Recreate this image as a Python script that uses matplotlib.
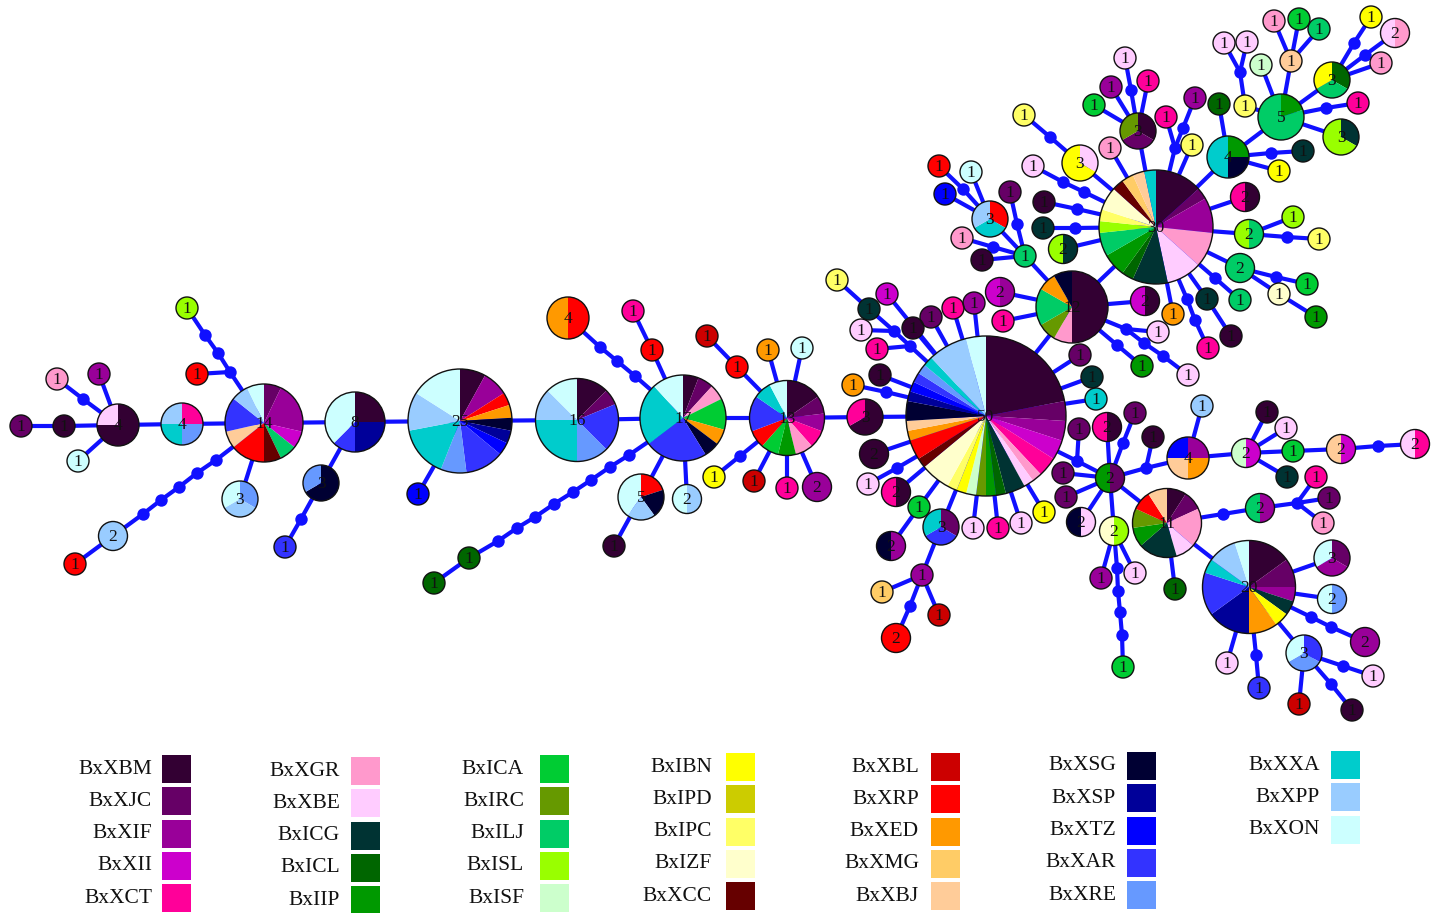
#!/usr/bin/env python3
"""Haplotype network of Bx populations, drawn as pie nodes with mutation steps."""
import numpy as np
import matplotlib
matplotlib.use("Agg")
import matplotlib.pyplot as plt
from matplotlib.patches import Wedge, Circle, Rectangle

# populations (legend order) and their colours
pop_names = ["BxXBM", "BxXJC", "BxXIF", "BxXII", "BxXCT",
             "BxXGR", "BxXBE", "BxICG", "BxICL", "BxIIP",
             "BxICA", "BxIRC", "BxILJ", "BxISL", "BxISF",
             "BxIBN", "BxIPD", "BxIPC", "BxIZF", "BxXCC",
             "BxXBL", "BxXRP", "BxXED", "BxXMG", "BxXBJ",
             "BxXSG", "BxXSP", "BxXTZ", "BxXAR", "BxXRE",
             "BxXXA", "BxXPP", "BxXON"]
pop_colors = ["#330033", "#660066", "#990099", "#cc00cc", "#ff0099",
              "#ff99cc", "#ffccff", "#003333", "#006600", "#009900",
              "#00cc33", "#669900", "#00cc66", "#99ff00", "#ccffcc",
              "#ffff00", "#cccc00", "#ffff66", "#ffffcc", "#660000",
              "#cc0000", "#ff0000", "#ff9900", "#ffcc66", "#ffcc99",
              "#000033", "#000099", "#0000ff", "#3333ff", "#6699ff",
              "#00cccc", "#99ccff", "#ccffff"]

# haplotype nodes: id, layout x, layout y, haplotype composition
left_nodes = [
    ("a1", 21, 426, "XJC:1"), ("a2", 64, 426, "XBM:1"), ("a3", 118, 425, "XBM:3 XBE:1"),
    ("a4", 57, 379, "XGR:1"), ("a5", 99, 374, "XIF:1"), ("a6", 78, 461, "XON:1"),
    ("a7", 182, 424, "XCT:1 XRE:1 XXA:1 XPP:1"),
    ("a8", 264, 423, "XJC:1 XIF:3 XII:1 ILJ:1 XCC:1 XRP:2 XBJ:1 XAR:2 XPP:1 XON:1"),
    ("a9", 187, 308, "ISL:1"), ("a10", 197, 374, "XRP:1"), ("a11", 113, 536, "XPP:2"),
    ("a12", 75, 564, "XRP:1"), ("a13", 240, 499, "XRE:1 XPP:1 XON:1"),
    ("a14", 355, 422, "XBM:2 XSP:2 XAR:1 XON:3"), ("a15", 321, 483, "XSG:2 XRE:1"),
    ("a16", 285, 547, "XAR:1"),
    ("a17", 460, 421, "XBM:2 XIF:2 XRP:1 XED:1 XSG:1 XSP:1 XTZ:1 XAR:3 XRE:2 XXA:4 XPP:3 XON:4"),
    ("a18", 418, 494, "XTZ:1"),
    ("a19", 577, 420, "XBM:2 XJC:1 XAR:3 XRE:2 XXA:4 XPP:2 XON:2"),
    ("a20", 683, 418, "XBM:1 XJC:1 XGR:1 ICA:2 XED:1 XSG:1 XAR:4 XXA:4 XON:2"),
    ("a21", 568, 318, "XRP:2 XED:2"), ("a22", 633, 311, "XCT:1"), ("a23", 652, 350, "XRP:1"),
    ("a24", 469, 558, "ICL:1"), ("a25", 434, 583, "ICL:1"),
    ("a26", 641, 497, "XRP:1 XSG:1 XPP:1 XON:2"), ("a27", 614, 546, "XBM:1"),
    ("a28", 687, 499, "XPP:1 XON:1"), ("a29", 707, 336, "XBL:1"), ("a30", 737, 367, "XRP:1"),
    ("a31", 787, 418, "XBM:2 XJC:1 XIF:1 XCT:1 XGR:1 IIP:1 ICA:1 XRP:1 XAR:2 XXA:1 XON:1"),
    ("a32", 768, 350, "XED:1"), ("a33", 802, 348, "XON:1"), ("a34", 714, 477, "IBN:1"),
    ("a35", 754, 481, "XBL:1"), ("a36", 787, 488, "XCT:1"), ("a37", 817, 487, "XIF:2"),
    ("a38", 865, 417, "XBM:2 XCT:1"),
]
center_nodes = [
    ("B", 986, 416, "XBM:11 XJC:2 XIF:2 XII:2 XCT:2 XGR:1 XBE:1 ICG:2 ICL:1 IIP:1 IRC:1 ISF:1 "
                    "IBN:1 IPC:1 IZF:3 XCC:1 XRP:2 XED:1 XBJ:1 XSG:2 XSP:1 XTZ:1 XAR:1 XRE:1 "
                    "XXA:1 XPP:4 XON:2"),
    ("b1", 837, 280, "IPC:1"), ("b2", 869, 309, "ICG:1"), ("b3", 861, 330, "XBE:1"),
    ("b4", 877, 349, "XCT:1"), ("b5", 887, 294, "XII:1"), ("b6", 913, 328, "XBM:1"),
    ("b7", 931, 317, "XJC:1"), ("b8", 953, 308, "XCT:1"), ("b9", 974, 303, "XIF:1"),
    ("b10", 880, 375, "XBM:1"), ("b11", 853, 385, "XED:1"), ("b12", 874, 454, "XBM:2"),
    ("b13", 868, 484, "XBE:1"), ("b14", 896, 492, "XBM:1 XCT:1"), ("b15", 919, 507, "ICA:1"),
    ("b16", 891, 546, "XIF:1 XSG:1"), ("b17", 941, 527, "XJC:1 XAR:1 XXA:1"),
    ("b18", 922, 575, "XIF:1"), ("b19", 882, 592, "XMG:1"), ("b20", 939, 615, "XBL:1"),
    ("b21", 896, 638, "XRP:2"), ("b22", 973, 528, "XBE:1"), ("b23", 998, 528, "XCT:1"),
    ("b24", 1021, 523, "XBE:1"), ("b25", 1044, 512, "IBN:1"), ("b26", 1080, 355, "XJC:1"),
    ("b27", 1092, 377, "ICG:1"), ("b28", 1096, 399, "XXA:1"), ("b29", 1079, 429, "XJC:1"),
    ("b30", 1110, 478, "XJC:1 IIP:1"), ("b31", 1107, 427, "XBM:1 XCT:1"),
    ("b32", 1063, 473, "XJC:1"), ("b33", 1066, 497, "XJC:1"), ("b34", 1081, 522, "XBE:1 XSG:1"),
    ("b35", 1114, 531, "ISL:1 IZF:1"), ("b36", 1135, 413, "XJC:1"), ("b37", 1153, 437, "XBM:1"),
    ("b38", 1188, 458, "XIF:1 XED:1 XBJ:1 XTZ:1"), ("b39", 1202, 406, "XPP:1"),
    ("b40", 1246, 453, "XII:1 ISF:1"), ("b41", 1267, 412, "XBM:1"), ("b42", 1286, 428, "XBE:1"),
    ("b43", 1293, 451, "ICA:1"), ("b44", 1287, 477, "ICG:1"), ("b45", 1341, 449, "XII:1 XBJ:1"),
    ("b46", 1415, 444, "XCT:1 XBE:1"), ("b47", 1101, 578, "XIF:1"), ("b48", 1135, 573, "XBE:1"),
    ("b49", 1123, 667, "ICA:1"),
]
lower_right_nodes = [
    ("c1", 1167, 523, "XBM:1 XJC:1 XGR:2 XBE:1 ICG:2 IIP:1 IRC:1 XRP:1 XBJ:1"),
    ("c2", 1175, 589, "ICL:1"), ("c3", 1260, 508, "XIF:1 ILJ:1"), ("c4", 1316, 477, "XCT:1"),
    ("c5", 1329, 498, "XJC:1"), ("c6", 1323, 523, "XGR:1"),
    ("c7", 1249, 587, "XBM:3 XJC:2 XIF:1 ICG:1 IBN:1 XED:2 XSP:3 XAR:3 XXA:1 XPP:2 XON:1"),
    ("c8", 1332, 558, "XJC:1 XIF:1 XON:1"), ("c9", 1332, 599, "XRE:1 XON:1"),
    ("c10", 1365, 642, "XIF:2"), ("c11", 1304, 653, "XAR:1 XRE:1 XON:1"),
    ("c12", 1373, 676, "XBE:1"), ("c13", 1299, 704, "XBL:1"), ("c14", 1352, 710, "XBM:1"),
    ("c15", 1227, 663, "XBE:1"), ("c16", 1259, 688, "XAR:1"),
]
upper_nodes = [
    ("t1", 1072, 307, "XBM:6 XGR:1 IRC:1 ILJ:2 XED:1 XSG:1"),
    ("t2", 1156, 227, "XBM:4 XJC:1 XIF:3 XGR:3 XBE:3 ICG:3 ICL:1 IIP:2 ILJ:2 ISL:1 IPC:1 "
                      "IZF:2 XCC:1 XMG:1 XBJ:1 XXA:1"),
    ("t3", 1000, 292, "XIF:1 XII:1"), ("t4", 1003, 321, "XCT:1"), ("t5", 1145, 301, "XBM:1 XII:1"),
    ("t6", 1173, 314, "XED:1"), ("t7", 1158, 332, "XBE:1"), ("t8", 1142, 366, "IIP:1"),
    ("t9", 1188, 375, "XBE:1"), ("t10", 1025, 256, "ILJ:1"), ("t11", 990, 219, "XRP:1 XXA:1 XPP:1"),
    ("t12", 939, 166, "XRP:1"), ("t13", 945, 194, "XTZ:1"), ("t14", 971, 172, "XON:1"),
    ("t15", 1010, 192, "XJC:1"), ("t16", 962, 238, "XGR:1"), ("t17", 982, 260, "XBM:1"),
    ("t18", 1033, 166, "XBE:1"), ("t19", 1024, 115, "IPC:1"), ("t20", 1080, 163, "XBE:1 IBN:2"),
    ("t21", 1044, 202, "XBM:1"), ("t22", 1043, 228, "ICG:1"), ("t23", 1063, 249, "ICG:1 ISL:1"),
    ("t24", 1110, 148, "XGR:1"), ("t25", 1138, 131, "XBM:1 XJC:1 IRC:1"),
    ("t26", 1125, 58, "XBE:1"), ("t27", 1111, 87, "XIF:1"), ("t28", 1094, 105, "ICA:1"),
    ("t29", 1148, 81, "XCT:1"), ("t30", 1166, 117, "XCT:1"), ("t31", 1195, 98, "XIF:1"),
    ("t32", 1192, 145, "IPC:1"), ("t33", 1228, 157, "IIP:1 XSG:1 XXA:2"),
    ("t34", 1219, 104, "ICL:1"), ("t35", 1303, 151, "ICG:1"), ("t36", 1279, 171, "IBN:1"),
    ("t37", 1281, 117, "IIP:1 ILJ:4"), ("t38", 1245, 106, "IPC:1"), ("t39", 1224, 43, "XBE:1"),
    ("t40", 1247, 42, "XBE:1"), ("t41", 1261, 65, "ISF:1"), ("t42", 1291, 61, "XBJ:1"),
    ("t43", 1274, 21, "XGR:1"), ("t44", 1299, 19, "ICA:1"), ("t45", 1319, 29, "ILJ:1"),
    ("t46", 1332, 80, "ICL:1 ILJ:1 IBN:1"), ("t47", 1371, 17, "IBN:1"),
    ("t48", 1395, 33, "XGR:1 XBE:1"), ("t49", 1381, 63, "XGR:1"), ("t50", 1358, 103, "XCT:1"),
    ("t51", 1341, 137, "ICG:1 ISL:2"), ("t52", 1245, 197, "XBM:1 XCT:1"),
    ("t53", 1249, 234, "ILJ:1 ISL:1"), ("t54", 1293, 217, "ISL:1"), ("t55", 1319, 239, "IPC:1"),
    ("t56", 1240, 268, "ILJ:2"), ("t57", 1279, 294, "IZF:1"), ("t58", 1307, 284, "ICA:1"),
    ("t59", 1316, 317, "IIP:1"), ("t60", 1207, 299, "ICG:1"), ("t61", 1231, 336, "XBM:1"),
    ("t62", 1240, 300, "ILJ:1"), ("t63", 1208, 348, "XCT:1"),
]

# median vectors / mutation steps
step_names = ["d1", "d2", "d3", "d4", "d5", "d6", "d7", "d8", "d9", "d10",
              "d11", "d12", "d13", "d14", "d15", "d16", "d17", "d18", "d19", "d20",
              "d21", "d22",
              "db1", "db2", "db3", "db4", "db5", "db6", "db7", "db8", "db9",
              "db10", "db11", "db12", "db13",
              "dc1", "dc2", "dc3", "dc4", "dc5", "dc6", "dc7",
              "dt1", "dt2", "dt3", "dt4", "dt5", "dt6", "dt7", "dt8", "dt9", "dt10",
              "dt11", "dt12", "dt13", "dt14", "dt15", "dt16", "dt17", "dt18", "dt19",
              "dt20", "dt21", "dt22", "dt23", "dt24", "dt25"]
step_x = [83, 205, 218, 230, 143, 161, 179, 197, 216, 301,
          600, 617, 635, 498, 517, 535, 554, 573, 591, 610,
          629, 740,
          894, 910, 886, 897, 910, 1077, 1123, 1146, 1378,
          1117, 1118, 1120, 1122,
          1223, 1297, 1311, 1331, 1343, 1331, 1256,
          1126, 1117, 1144, 1163, 963, 1017, 993, 1063, 1084, 1050,
          1077, 1075, 1131, 1183, 1175, 1271, 1240, 1354, 1365,
          1326, 1287, 1276, 1215, 1187, 1195]
step_y = [399, 335, 353, 372, 514, 500, 487, 473, 460, 519,
          347, 361, 376, 541, 528, 517, 504, 492, 480, 467,
          455, 456,
          331, 346, 392, 468, 606, 461, 443, 468, 446,
          568, 591, 612, 635,
          514, 503, 617, 627, 666, 684, 655,
          329, 345, 343, 356, 189, 224, 247, 182, 192, 137,
          209, 228, 90, 128, 148, 153, 72, 43, 55,
          108, 237, 277, 278, 299, 320]

# links, each written as a path through the network
links = [
    "a1 a2 a3", "a4 d1 a3", "a5 a3", "a6 a3", "a3 a7 a8", "a9 d2 d3 d4 a8", "a10 d4",
    "a12 a11 d5 d6 d7 d8 d9 a8", "a13 a8", "a8 a14 a17", "a14 a15 d10 a16", "a17 a18",
    "a17 a19 a20", "a21 d11 d12 d13 a20", "a22 a23 a20",
    "a25 a24 d14 d15 d16 d17 d18 d19 d20 d21 a20", "a20 a26 a27", "a20 a28", "a20 a31",
    "a29 a30 a31", "a31 a32", "a31 a33", "a34 d22 a31", "a31 a35", "a31 a36", "a31 a37",
    "a31 a38 B",
    "B b5", "B db2 db1 b2 b1", "b3 db1", "b4 db2", "B b6", "B b7", "B b8", "B b9", "B b10",
    "B db3 b11", "B b12", "B db4 b13", "B b14", "B b15 b16", "B b17 b18 b19", "b18 b20",
    "b18 db5 b21", "B b22", "B b23", "B b24", "B b25", "B b26", "B b27", "B b28",
    "B db6 b30", "db6 b29", "b30 b31", "b30 b32", "b30 b33", "b30 b34", "b30 b35",
    "b30 db7 b36", "b30 db8 b38", "db8 b37", "b38 b39", "b38 b40", "b40 b41", "b40 b42",
    "b40 b43 b45 db9 b46", "b40 b44", "b35 b47", "b35 b48", "b35 db10 db11 db12 db13 b49",
    "b30 c1", "c1 c2", "c1 dc1 c3 dc2 c4", "dc2 c5", "dc2 c6", "c1 c7", "c7 c8", "c7 c9",
    "c7 dc3 dc4 c10", "c7 c11 dc5 c12", "c11 c13", "c11 dc6 c14", "c7 c15", "c7 dc7 c16",
    "B t1 t2", "t1 t3", "t1 t4", "t1 t5", "t1 dt1 t7", "dt1 dt3 dt4 t9", "t1 dt2 t8",
    "t1 t10 t11 dt5 t12", "t11 t13", "t11 t14", "t10 dt6 t15", "t10 dt7 t16", "t10 t17",
    "t2 t6", "t2 t60 t61", "t2 dt23 t62", "t2 dt24 dt25 t63", "t2 t56 dt22 t58",
    "t56 t57 t59", "t2 t53 t54", "t53 dt21 t55", "t2 t52", "t2 t33 t34", "t33 dt16 t35",
    "t33 t36", "t33 t37", "t2 dt15 dt14 t31", "t30 dt15", "t2 t32", "t2 t25 t27",
    "t25 t28", "t25 dt13 t26", "t25 t29", "t2 t24", "t19 dt10 t20 t2", "t2 dt9 dt8 t18",
    "t2 dt11 t21", "t2 dt12 t22", "t2 t23",
    "t37 t38 dt17 t39", "dt17 t40", "t37 t41", "t37 t42 t43", "t42 t44", "t42 t45",
    "t37 t46 dt18 t47", "t46 dt19 t48", "t46 t49", "t37 dt20 t50", "t37 t51",
]

# node size scale: haplotype frequency -> radius (px)
size_n = [1, 2, 3, 4, 5, 8, 11, 13, 14, 16, 17, 20, 25, 30, 50]
size_r = [11, 14.5, 18, 21, 23, 30, 34.5, 37.5, 39, 41.5, 43, 46.5, 52, 57, 80]

EDGE = "#1010ff"
SERIF = "Liberation Serif"


def parse_comp(s):
    out = []
    for tok in s.split():
        code, n = tok.split(":")
        out.append(("Bx" + code, int(n)))
    # pies are ordered like the legend
    out.sort(key=lambda t: pop_names.index(t[0]))
    return out


nodes = left_nodes + center_nodes + lower_right_nodes + upper_nodes
pos = {nid: (x, y) for nid, x, y, _ in nodes}
for nid, x, y in zip(step_names, step_x, step_y):
    pos[nid] = (x, y)
color_of = dict(zip(pop_names, pop_colors))

fig = plt.figure(figsize=(14.39, 9.13), dpi=100)
ax = fig.add_axes([0, 0, 1, 1])
ax.set_xlim(0, 1439)
ax.set_ylim(913, 0)
ax.axis("off")

for path in links:
    ids = path.split()
    xs = [pos[i][0] for i in ids]
    ys = [pos[i][1] for i in ids]
    ax.plot(xs, ys, color=EDGE, lw=3.0, solid_capstyle="round", zorder=1)

ax.scatter(step_x, step_y, s=80, color=EDGE, zorder=2, linewidths=0)

for nid, x, y, comp in nodes:
    parts = parse_comp(comp)
    total = sum(n for _, n in parts)
    r = float(np.interp(total, size_n, size_r))
    start = 0.0
    for pop, n in parts:
        frac = n / total
        # y axis is flipped: 270 deg is the top, increasing angle runs clockwise
        ax.add_patch(Wedge((x, y), r, 270 + 360 * start, 270 + 360 * (start + frac),
                           facecolor=color_of[pop], edgecolor="none", zorder=3))
        start += frac
    ax.add_patch(Circle((x, y), r, facecolor="none", edgecolor="#111111", lw=1.0, zorder=4))
    ax.text(x, y + 1, str(total), ha="center", va="center", fontsize=12.5,
            family=SERIF, color="#111111", zorder=5)

# legend
label_right = [152, 340, 524, 712, 919, 1116, 1320]
square_left = [162, 351, 540, 726, 931, 1127, 1331]
row_top = [769, 771, 769, 767, 767, 766, 765]
for c in range(7):
    for r_i, pop in enumerate(pop_names[c * 5:(c + 1) * 5]):
        yy = row_top[c] + 32.3 * r_i
        ax.add_patch(Rectangle((square_left[c], yy - 14), 29, 28,
                               facecolor=color_of[pop], edgecolor="none"))
        ax.text(label_right[c], yy, pop, ha="right", va="center", fontsize=15.5,
                family=SERIF, color="#111111")

fig.savefig("out.png", dpi=100)
